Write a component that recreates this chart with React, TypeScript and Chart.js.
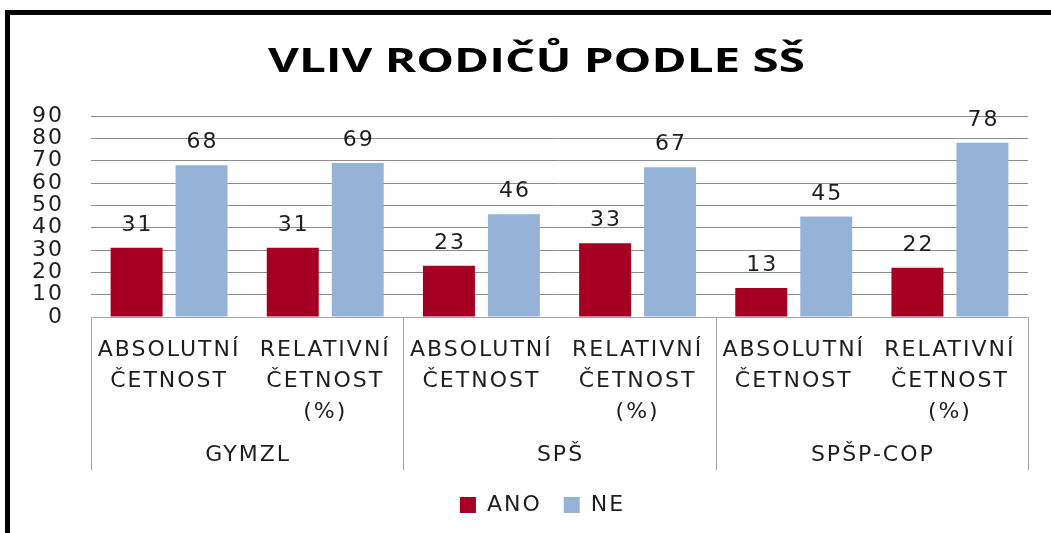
import React, { useEffect, useRef } from 'react';
import { Chart, registerables } from 'chart.js';

Chart.register(...registerables);

const chartTitle = 'VLIV RODIČŮ PODLE SŠ';
const categories: string[][] = [
  ['ABSOLUTNÍ', 'ČETNOST'],
  ['RELATIVNÍ', 'ČETNOST', '(%)'],
  ['ABSOLUTNÍ', 'ČETNOST'],
  ['RELATIVNÍ', 'ČETNOST', '(%)'],
  ['ABSOLUTNÍ', 'ČETNOST'],
  ['RELATIVNÍ', 'ČETNOST', '(%)'],
];
const groups = ['GYMZL', 'SPŠ', 'SPŠP-COP'];
const seriesNames = ['ANO', 'NE'];
const anoValues = [31, 31, 23, 33, 13, 22];
const neValues = [68, 69, 46, 67, 45, 78];
const yMin = 0;
const yMax = 90;
const yStep = 10;

const FONT = '"DejaVu Sans", Verdana, sans-serif';
const TEXT = '#1e1e1e';
const SPACING = '2px';
const FS = 22;

const spacingPlugin = {
  id: 'spacing',
  beforeLayout(chart: any) {
    chart.ctx.letterSpacing = SPACING;
  },
  beforeDraw(chart: any) {
    chart.ctx.letterSpacing = SPACING;
  },
};

const decorPlugin = {
  id: 'decor',
  afterDraw(chart: any) {
    const ctx = chart.ctx;
    const xs = chart.scales.x;
    const area = chart.chartArea;
    const catW = (xs.right - xs.left) / categories.length;
    const per = categories.length / groups.length;

    // title
    ctx.save();
    ctx.letterSpacing = '0px';
    ctx.font = 'bold 34px "Open Sans", Lato, sans-serif';
    ctx.fillStyle = '#000';
    ctx.textAlign = 'center';
    ctx.textBaseline = 'alphabetic';
    const tw = ctx.measureText(chartTitle).width;
    ctx.translate(536.5, 72);
    ctx.scale(537 / tw, 1);
    ctx.fillText(chartTitle, 0, 0);
    ctx.restore();

    // group box lines
    ctx.save();
    ctx.strokeStyle = '#a6a6a6';
    ctx.lineWidth = 1;
    for (let g = 0; g <= groups.length; g++) {
      const x = Math.round(xs.left + g * per * catW) + 0.5;
      ctx.beginPath();
      ctx.moveTo(x, area.bottom);
      ctx.lineTo(x, 470);
      ctx.stroke();
    }
    ctx.restore();

    // group labels
    ctx.save();
    ctx.letterSpacing = SPACING;
    ctx.font = `${FS}px ${FONT}`;
    ctx.fillStyle = TEXT;
    ctx.textAlign = 'center';
    ctx.textBaseline = 'middle';
    groups.forEach((g, i) => {
      const a = xs.getPixelForValue(i * per);
      const b = xs.getPixelForValue(i * per + per - 1);
      ctx.fillText(g, (a + b) / 2 + 1, 455);
    });
    ctx.restore();

    // data labels
    ctx.save();
    ctx.letterSpacing = SPACING;
    ctx.font = `${FS}px ${FONT}`;
    ctx.fillStyle = TEXT;
    ctx.textAlign = 'center';
    ctx.textBaseline = 'alphabetic';
    chart.data.datasets.forEach((ds: any, i: number) => {
      const meta = chart.getDatasetMeta(i);
      meta.data.forEach((el: any, j: number) => {
        ctx.fillText(String(ds.data[j]), el.x + 1, el.y - 17);
      });
    });
    ctx.restore();

    // legend
    ctx.save();
    ctx.letterSpacing = SPACING;
    ctx.font = `${FS}px ${FONT}`;
    ctx.textBaseline = 'middle';
    ctx.textAlign = 'left';
    const box = 16;
    const gapBoxText = 11;
    const gapItems = 22;
    const items = chart.data.datasets.map((ds: any) => ({
      label: ds.label,
      color: ds.backgroundColor,
      w: ctx.measureText(ds.label).width,
    }));
    const total = items.reduce((s: number, it: any) => s + box + gapBoxText + it.w, 0) + gapItems * (items.length - 1);
    let x = 542.5 - total / 2;
    const cy = 505;
    items.forEach((it: any) => {
      ctx.fillStyle = it.color;
      ctx.fillRect(x, cy - box / 2, box, box);
      x += box + gapBoxText;
      ctx.fillStyle = TEXT;
      ctx.fillText(it.label, x, cy);
      x += it.w + gapItems;
    });
    ctx.restore();
  },
};

export default function App() {
  const ref = useRef<HTMLCanvasElement>(null);

  useEffect(() => {
    if (!ref.current) return;
    const chart = new Chart(ref.current, {
      type: 'bar',
      data: {
        labels: categories,
        datasets: [
          {
            label: seriesNames[0],
            data: anoValues,
            backgroundColor: '#A50021',
            borderWidth: 0,
            categoryPercentage: 0.832,
            barPercentage: 0.8,
          },
          {
            label: seriesNames[1],
            data: neValues,
            backgroundColor: '#95B3D7',
            borderWidth: 0,
            categoryPercentage: 0.832,
            barPercentage: 0.8,
          },
        ],
      },
      options: {
        responsive: false,
        animation: false,
        devicePixelRatio: 1,
        layout: { padding: { left: 0, right: 23, top: 116, bottom: 0 } },
        plugins: {
          legend: { display: false },
          title: { display: false },
          tooltip: { enabled: false },
        },
        scales: {
          x: {
            type: 'category',
            offset: true,
            grid: { display: false },
            border: { display: true, color: '#a6a6a6', width: 1 },
            ticks: {
              autoSkip: false,
              maxRotation: 0,
              minRotation: 0,
              padding: 10,
              color: TEXT,
              font: { family: FONT, size: FS, lineHeight: 1.4 },
            },
            afterFit: (s: any) => {
              s.height = 533 - 317;
            },
          },
          y: {
            min: yMin,
            max: yMax,
            grid: { color: '#8c8c8c', drawTicks: false, lineWidth: 1 },
            border: { display: false },
            ticks: {
              stepSize: yStep,
              autoSkip: false,
              padding: 27,
              color: TEXT,
              font: { family: FONT, size: FS },
            },
            afterFit: (s: any) => {
              s.width = 91;
            },
          },
        },
      },
      plugins: [spacingPlugin, decorPlugin],
    } as any);
    return () => chart.destroy();
  }, []);

  return (
    <div style={{ position: 'fixed', left: 0, top: 0, width: 1051, height: 533, background: '#fff' }}>
      <div
        style={{
          position: 'absolute',
          left: 5,
          top: 10,
          right: 0,
          bottom: 0,
          borderTop: '5px solid #000',
          borderLeft: '5px solid #000',
        }}
      />
      <canvas ref={ref} width={1051} height={533} style={{ position: 'absolute', left: 0, top: 0 }} />
    </div>
  );
}
